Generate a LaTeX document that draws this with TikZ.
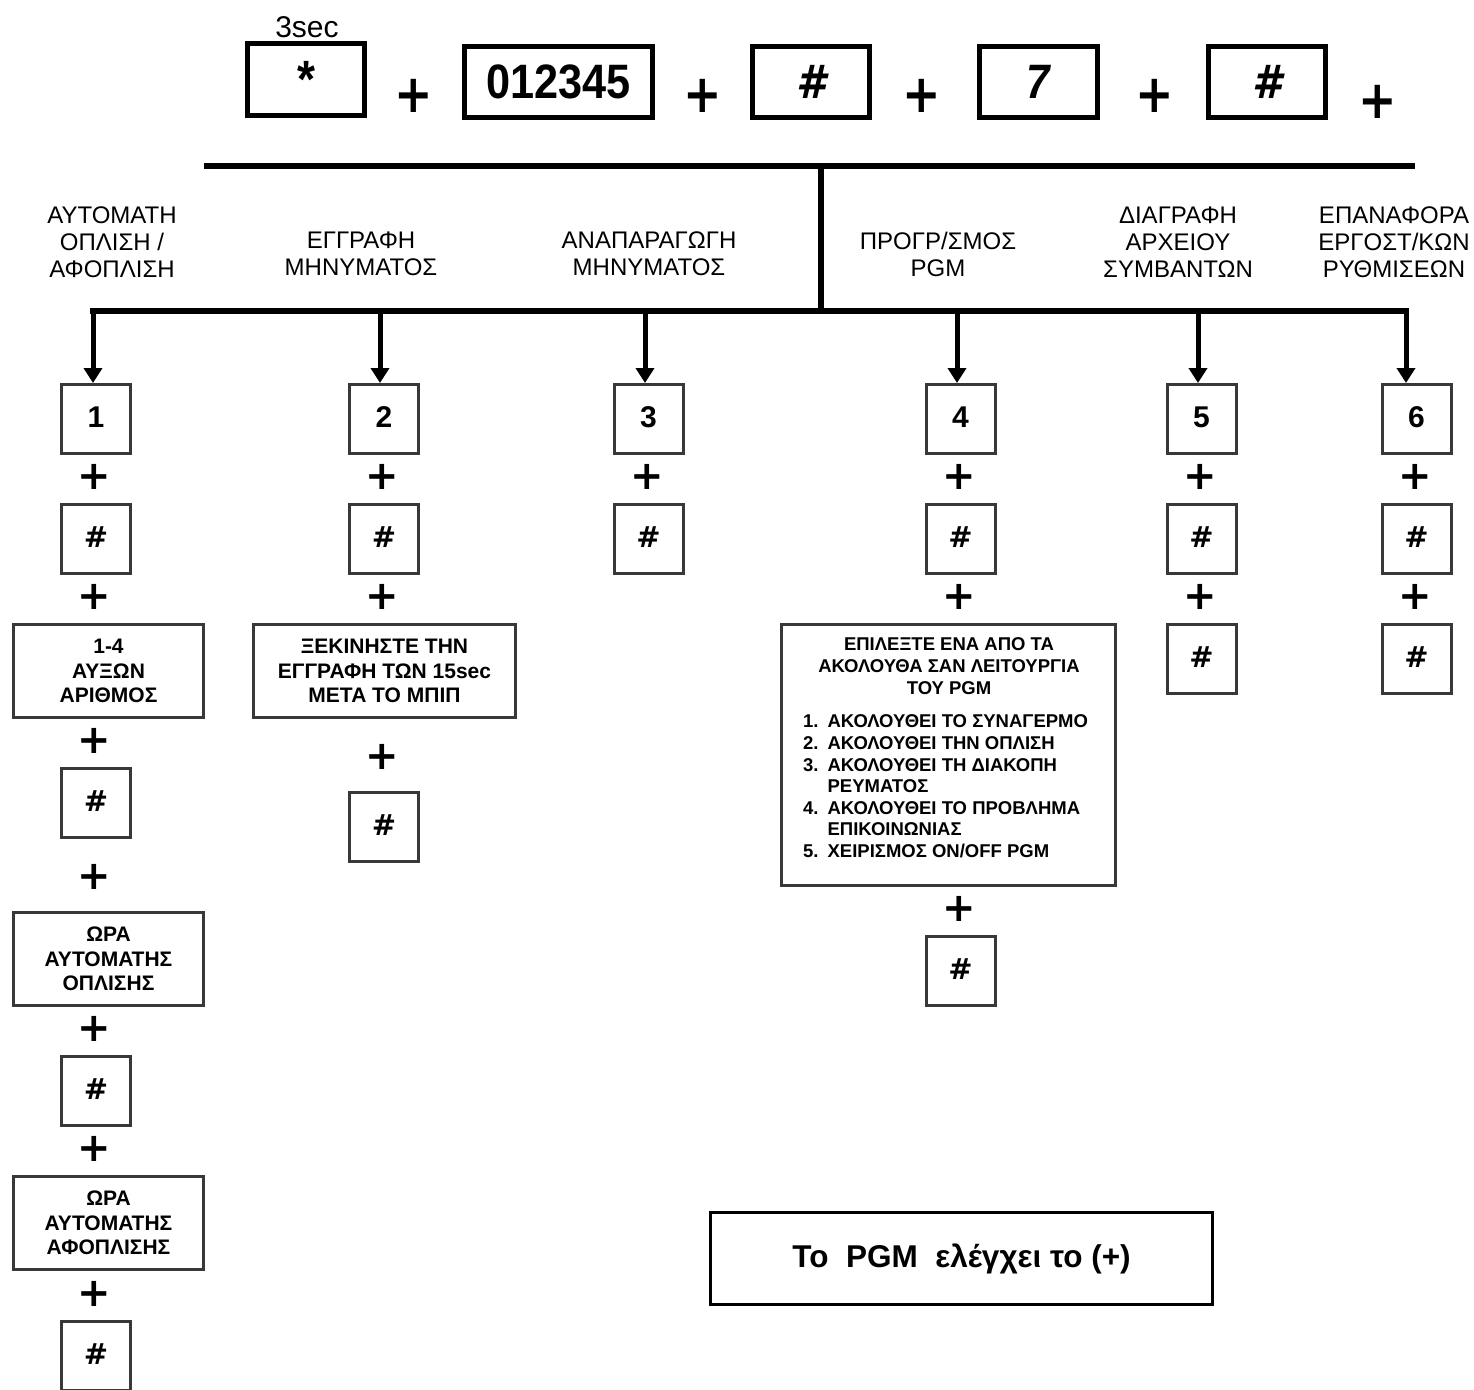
\documentclass[tikz,border=0pt]{standalone}
\usepackage{fontspec}
\setmainfont{Liberation Sans}
\newfontface\heavy{DejaVu Sans Bold}
\newfontface\heavyit{DejaVu Sans Bold Oblique}
\usetikzlibrary{arrows.meta}
\begin{document}
\begin{tikzpicture}[x=1pt,y=-1pt,
  topbox/.style={draw=black, line width=5pt, minimum width=117pt, minimum height=72pt, inner sep=0pt},
  toptxt/.style={font=\bfseries\fontsize{42}{42}\selectfont},
  keybox/.style={draw=black!78, line width=3pt, minimum width=69pt, minimum height=69pt, inner sep=0pt, font=\bfseries\fontsize{30}{30}\selectfont},
  hash/.style={keybox, font=\heavy\fontsize{29}{29}\selectfont},
  txtbox/.style={draw=black!78, line width=3pt, minimum width=190pt, minimum height=93pt, inner sep=0pt, align=center, font=\bfseries\fontsize{21}{24.5}\selectfont},
  bigplus/.style={inner sep=0pt, font=\heavy\fontsize{46}{46}\selectfont},
  plus/.style={inner sep=0pt, font=\heavy\fontsize{40}{40}\selectfont},
  lbl/.style={align=center, inner sep=0pt, font=\fontsize{24}{27}\selectfont},
  bus/.style={line width=6pt, line cap=rect},
  arr/.style={line width=5pt, -{Triangle[width=18pt,length=15pt]}},
]
\useasboundingbox[fill=white] (0,0) rectangle (1474,1389);

% ---- top row
\node (sec) [inner sep=0pt, font=\fontsize{30}{30}\selectfont] at (307,27) {3sec};
\node (k1) [topbox, toptxt] at (306,79.5) {\scalebox{1.1}[1.25]{*}};
\node (p1) [bigplus] at (414,96) {\scalebox{1}[1.15]{+}};
\node (k2) [topbox, toptxt, minimum width=188pt, minimum height=71pt] at (558.5,82) {\scalebox{1.03}[1.15]{012345}};
\node (p2) [bigplus] at (703,96) {\scalebox{1}[1.15]{+}};
\node (k3) [topbox, minimum height=71pt, font=\heavyit\fontsize{42}{42}\selectfont] at (811,82) {\scalebox{1}[1.1]{\#}};
\node (p3) [bigplus] at (922,96) {\scalebox{1}[1.15]{+}};
\node (k4) [topbox, toptxt, minimum width=118pt, minimum height=71pt] at (1038.5,82) {\scalebox{1}[1.15]{\itshape 7}};
\node (p4) [bigplus] at (1155,96) {\scalebox{1}[1.15]{+}};
\node (k5) [topbox, minimum height=71pt, font=\heavyit\fontsize{42}{42}\selectfont] at (1267,82) {\scalebox{1}[1.1]{\#}};
\node (p5) [bigplus] at (1378,102) {\scalebox{1}[1.15]{+}};

% ---- bus
\coordinate (tl) at (207,166);
\coordinate (tr) at (1412,166);
\coordinate (tm) at (821,166);
\coordinate (jn) at (821,311);
\coordinate (a1) at (93,311);
\coordinate (a2) at (380,311);
\coordinate (a3) at (645,311);
\coordinate (a4) at (957,311);
\coordinate (a5) at (1198,311);
\coordinate (a6) at (1406,311);
\draw[bus] (tl) -- (tr);
\draw[bus] (tm) -- (jn);
\draw[bus] (a1) -- (a6);

% ---- labels
\node (l1) [lbl] at (112,242) {ΑΥΤΟΜΑΤΗ\\ΟΠΛΙΣΗ /\\ΑΦΟΠΛΙΣΗ};
\node (l2) [lbl] at (361,254) {ΕΓΓΡΑΦΗ\\ΜΗΝΥΜΑΤΟΣ};
\node (l3) [lbl] at (649,254) {ΑΝΑΠΑΡΑΓΩΓΗ\\ΜΗΝΥΜΑΤΟΣ};
\node (l4) [lbl] at (938,254) {ΠΡΟΓΡ/ΣΜΟΣ\\PGM};
\node (l5) [lbl] at (1178,242) {ΔΙΑΓΡΑΦΗ\\ΑΡΧΕΙΟΥ\\ΣΥΜΒΑΝΤΩΝ};
\node (l6) [lbl] at (1394,242) {ΕΠΑΝΑΦΟΡΑ\\ΕΡΓΟΣΤ/ΚΩΝ\\ΡΥΘΜΙΣΕΩΝ};

% ---- number boxes
\node (b1) [keybox] at (96,419) {\raisebox{3pt}{1}};
\node (b2) [keybox] at (384,419) {\raisebox{3pt}{2}};
\node (b3) [keybox] at (648.5,419) {\raisebox{3pt}{3}};
\node (b4) [keybox] at (960.5,419) {\raisebox{3pt}{4}};
\node (b5) [keybox] at (1201.5,419) {\raisebox{3pt}{5}};
\node (b6) [keybox] at (1416.5,419) {\raisebox{3pt}{6}};

\draw[arr] (a1) -- (a1 |- b1.north);
\draw[arr] (a2) -- (a2 |- b2.north);
\draw[arr] (a3) -- (a3 |- b3.north);
\draw[arr] (a4) -- (a4 |- b4.north);
\draw[arr] (a5) -- (a5 |- b5.north);
\draw[arr] (a6) -- (a6 |- b6.north);

% ---- second row
\foreach \n/\x in {1/94,2/382,3/647,4/959,5/1200,6/1415}{
  \node (q\n) [plus] at (\x,477) {+};
}
\node (h1) [hash] at (96,539) {\raisebox{4pt}{\#}};
\node (h2) [hash] at (384,539) {\raisebox{4pt}{\#}};
\node (h3) [hash] at (648.5,539) {\raisebox{4pt}{\#}};
\node (h4) [hash] at (960.5,539) {\raisebox{4pt}{\#}};
\node (h5) [hash] at (1201.5,539) {\raisebox{4pt}{\#}};
\node (h6) [hash] at (1416.5,539) {\raisebox{4pt}{\#}};

\foreach \n/\x in {1/94,2/382,4/959,5/1200,6/1415}{
  \node (r\n) [plus] at (\x,597) {+};
}

% ---- column 1
\node (t1a) [txtbox] at (108.5,671) {1-4\\ΑΥΞΩΝ\\ΑΡΙΘΜΟΣ};
\node (s1a) [plus] at (94,741) {+};
\node (h1b) [hash] at (96,803) {\raisebox{4pt}{\#}};
\node (s1b) [plus] at (94,877) {+};
\node (t1b) [txtbox] at (108.5,959) {ΩΡΑ\\ΑΥΤΟΜΑΤΗΣ\\ΟΠΛΙΣΗΣ};
\node (s1c) [plus] at (94,1029) {+};
\node (h1c) [hash] at (96,1091) {\raisebox{4pt}{\#}};
\node (s1d) [plus] at (94,1149) {+};
\node (t1c) [txtbox] at (108.5,1223) {ΩΡΑ\\ΑΥΤΟΜΑΤΗΣ\\ΑΦΟΠΛΙΣΗΣ};
\node (s1e) [plus] at (94,1294) {+};
\node (h1d) [hash] at (96,1356) {\raisebox{4pt}{\#}};

% ---- column 2
\node (t2) [txtbox, minimum width=262pt] at (384.5,671) {ΞΕΚΙΝΗΣΤΕ ΤΗΝ\\ΕΓΓΡΑΦΗ ΤΩΝ 15sec\\ΜΕΤΑ ΤΟ ΜΠΙΠ};
\node (s2) [plus] at (382,757) {+};
\node (h2b) [hash] at (384,827) {\raisebox{4pt}{\#}};

% ---- column 4
\node (pgm) [draw=black!78, line width=3pt, minimum width=334pt, minimum height=261pt, inner sep=0pt] at (948.5,755) {};
\node (pgmh) [align=center, inner sep=0pt, font=\bfseries\fontsize{18.5}{22}\selectfont] at (949,666) {ΕΠΙΛΕΞΤΕ ΕΝΑ ΑΠΟ ΤΑ\\ΑΚΟΛΟΥΘΑ ΣΑΝ ΛΕΙΤΟΥΡΓΙΑ\\ΤΟΥ PGM};
\node (pgml) [anchor=north west, inner sep=0pt, font=\bfseries\fontsize{18.5}{21.6}\selectfont] at (803,712.5) {%
\begin{tabular}{@{}l@{\hspace{9pt}}l@{}}
1. & ΑΚΟΛΟΥΘΕΙ ΤΟ ΣΥΝΑΓΕΡΜΟ\\
2. & ΑΚΟΛΟΥΘΕΙ ΤΗΝ ΟΠΛΙΣΗ\\
3. & ΑΚΟΛΟΥΘΕΙ ΤΗ ΔΙΑΚΟΠΗ\\
   & ΡΕΥΜΑΤΟΣ\\
4. & ΑΚΟΛΟΥΘΕΙ ΤΟ ΠΡΟΒΛΗΜΑ\\
   & ΕΠΙΚΟΙΝΩΝΙΑΣ\\
5. & ΧΕΙΡΙΣΜΟΣ ON/OFF PGM
\end{tabular}};
\node (s4) [plus] at (959,909) {+};
\node (h4b) [hash] at (960.5,971) {\raisebox{4pt}{\#}};

% ---- column 5 and 6
\node (h5b) [hash] at (1201.5,659) {\raisebox{4pt}{\#}};
\node (h6b) [hash] at (1416.5,659) {\raisebox{4pt}{\#}};

% ---- bottom note
\node (note) [draw=black, line width=3pt, minimum width=502pt, minimum height=92pt, inner sep=0pt, font=\bfseries\fontsize{31.5}{31.5}\selectfont] at (961.5,1258.5) {Το\ \ PGM\ \ ελέγχει το (+)};
\end{tikzpicture}
\end{document}
